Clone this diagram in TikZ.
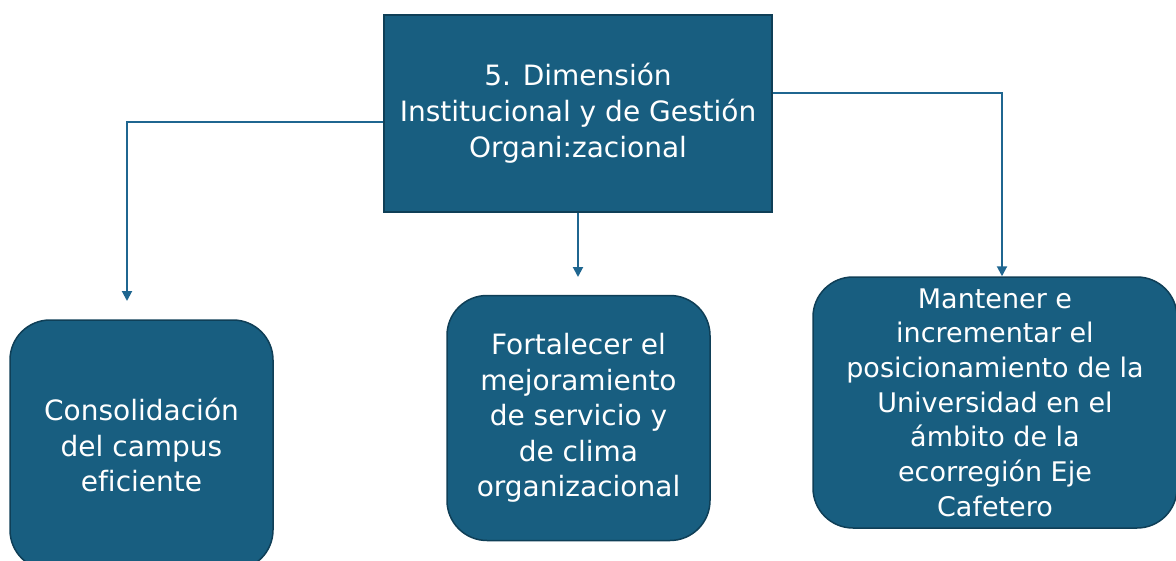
\documentclass[tikz,border=0pt]{standalone}
\usepackage{fontspec}
\setmainfont[Ligatures=NoCommon]{DejaVu Sans}
\usetikzlibrary{arrows.meta}
\definecolor{boxfill}{HTML}{185E80}
\definecolor{boxline}{HTML}{0F3F57}
\definecolor{conn}{HTML}{1F6690}
\begin{document}
\begin{tikzpicture}[x=1pt,y=-1pt,
  topbox/.style={draw=boxline,line width=1.5pt,fill=boxfill,text=white,align=center,
    minimum width=388pt,minimum height=197pt,inner sep=0pt,
    font=\fontsize{28}{36}\selectfont},
  goalbox/.style={draw=boxline,line width=1.5pt,fill=boxfill,text=white,align=center,
    rounded corners=40pt,inner sep=0pt,font=\fontsize{28}{35.5}\selectfont},
  link/.style={draw=conn,line width=2pt,-{Triangle[width=10pt,length=10pt]}}]
\useasboundingbox (0,0) rectangle (1176,560);
\node[topbox] (top) at (578,113.5) {5. Dimensión\\Institucional y de Gestión\\Organi:zacional};
\node[goalbox,minimum width=263pt,minimum height=250pt] (g1) at (141.5,445) {Consolidación\\del campus\\eficiente};
\node[goalbox,minimum width=263pt,minimum height=245pt] (g2) at (578.5,418) {Fortalecer el\\mejoramiento\\de servicio y\\de clima\\organizacional};
\node[goalbox,minimum width=364pt,minimum height=251pt,font=\fontsize{27}{34.7}\selectfont] (g3) at (995,402.5) {Mantener e\\incrementar el\\posicionamiento de la\\Universidad en el\\ámbito de la\\ecorregión Eje\\Cafetero};
\coordinate (c1) at (127,122);
\coordinate (e1) at (127,301);
\coordinate (e2) at (578,277);
\coordinate (c3) at (1002,93);
\draw[link] (top.west |- c1) -- (c1) -- (e1);
\draw[link] (top.south) -- (e2);
\draw[link] (top.east |- c3) -- (c3) -- (g3.north -| c3);
\end{tikzpicture}
\end{document}
